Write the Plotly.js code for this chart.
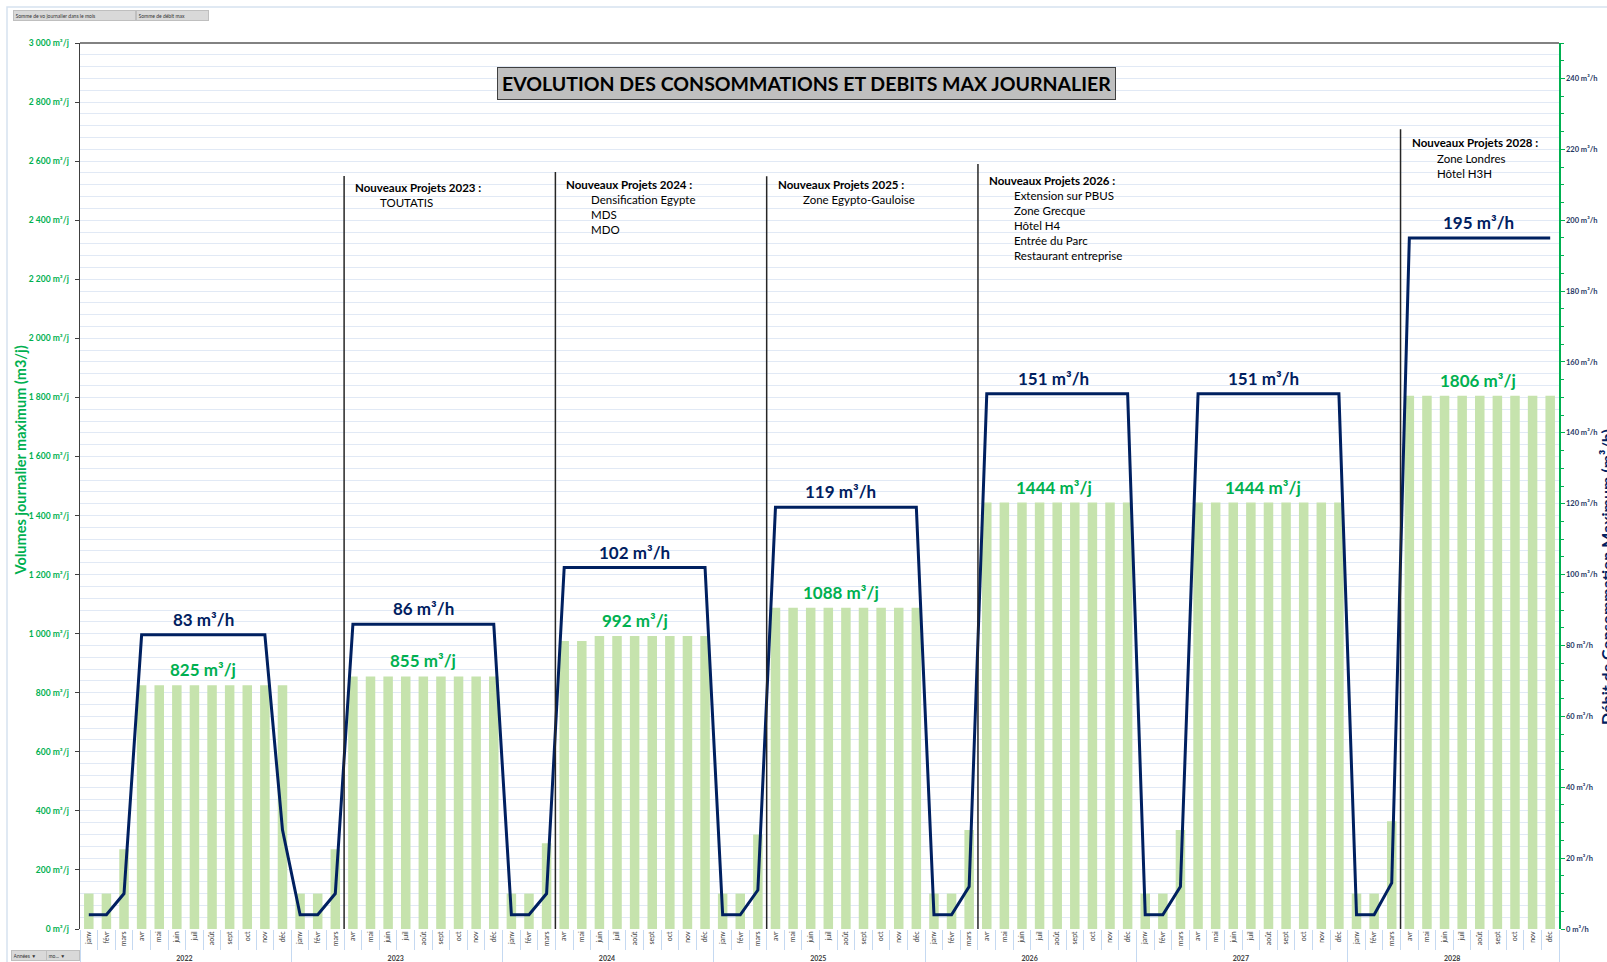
<!DOCTYPE html>
<html>
<head>
<meta charset="utf-8">
<script src="https://cdn.plot.ly/plotly-3.0.1.min.js"></script>
<style>
html,body{margin:0;padding:0;background:#fff;overflow:hidden;}
#chart{width:1607px;height:962px;}
</style>
</head>
<body>
<div id="chart"></div>
<script>
// ---------- DATA ----------
const years = ['2022','2023','2024','2025','2026','2027','2028'];
const months = ['janv','févr','mars','avr','mai','juin','juil','août','sept','oct','nov','déc'];

// Volumes journaliers maximum (m3/j) per month
const vol2022 = [120,120,270,825,825,825,825,825,825,825,825,825];
const vol2023 = [120,120,270,855,855,855,855,855,855,855,855,855];
const vol2024 = [120,120,290,975,975,992,992,992,992,992,992,992];
const vol2025 = [120,120,320,1088,1088,1088,1088,1088,1088,1088,1088,1088];
const vol2026 = [120,120,335,1444,1444,1444,1444,1444,1444,1444,1444,1444];
const vol2027 = [120,120,335,1444,1444,1444,1444,1444,1444,1444,1444,1444];
const vol2028 = [120,120,365,1806,1806,1806,1806,1806,1806,1806,1806,1806];

// Débit maximum (m3/h) per month
const deb2022 = [4,4,10,83,83,83,83,83,83,83,83,28];
const deb2023 = [4,4,10,86,86,86,86,86,86,86,86,86];
const deb2024 = [4,4,10,102,102,102,102,102,102,102,102,102];
const deb2025 = [4,4,11,119,119,119,119,119,119,119,119,119];
const deb2026 = [4,4,12,151,151,151,151,151,151,151,151,151];
const deb2027 = [4,4,12,151,151,151,151,151,151,151,151,151];
const deb2028 = [4,4,13,195,195,195,195,195,195,195,195,195];

// Peak labels (value shown, month index where placed)
const peakVolumes = [825,855,992,1088,1444,1444,1806];
const peakDebits = [83,86,102,119,151,151,195];
const labelPos = [6.5,19,31,42.7,54.8,66.7,78.9];

// New projects
const projYears = ['2023','2024','2025','2026','2028'];
const projects2023 = ['TOUTATIS'];
const projects2024 = ['Densification Egypte','MDS','MDO'];
const projects2025 = ['Zone Egypto-Gauloise'];
const projects2026 = ['Extension sur PBUS','Zone Grecque','Hôtel H4','Entrée du Parc','Restaurant entreprise'];
const projects2028 = ['Zone Londres','Hôtel H3H'];

const chartTitle = 'EVOLUTION DES CONSOMMATIONS ET DEBITS MAX JOURNALIER';
const leftTitle = 'Volumes journalier maximum (m3/j)';
const rightTitle = 'Débit de Consommation Maximum (m³/h)';

// ---------- BUILD ----------
const volumes = [].concat(vol2022,vol2023,vol2024,vol2025,vol2026,vol2027,vol2028);
const debits = [].concat(deb2022,deb2023,deb2024,deb2025,deb2026,deb2027,deb2028);
const xYears = [], xMonths = [];
years.forEach(y => months.forEach(m => { xYears.push('<b>'+y+'</b>'); xMonths.push(m); }));
const N = xMonths.length;

const GREEN = '#00b050', NAVY = '#002060', BAR = '#c6e3ad', GRID = '#e1e9f5';
const FONT = 'Lato, "Open Sans", sans-serif';

const W = 1607, H = 962, ML = 80, MR = 48, MT = 43, MB = 33;
const PW = W - ML - MR, PH = H - MT - MB;
const px = x => (x - ML) / PW;
const py = y => (H - MB - y) / PH;
const catX = i => (i + 0.5) / N;   // paper x of category center i

const traces = [
  {type:'bar', x:[xYears,xMonths], y:volumes, marker:{color:BAR}, name:'Somme de vo journalier dans le mois', hoverinfo:'y'},
  {type:'scatter', mode:'lines', x:[xYears,xMonths], y:debits, yaxis:'y2', line:{color:NAVY, width:3}, name:'Somme de débit max', hoverinfo:'y'}
];

const annotations = [];
const shapes = [];

// chart title box
annotations.push({xref:'paper', yref:'paper', x:px(806), y:py(83), xanchor:'center', yanchor:'middle', text:'<b>'+chartTitle+'</b>', showarrow:false,
  font:{family:FONT, size:19.5, color:'#000'}, bgcolor:'#bfbfbf', bordercolor:'#404040', borderwidth:1, borderpad:4});

// axis titles
annotations.push({xref:'paper', yref:'paper', x:px(19.5), y:py(461), xanchor:'center', yanchor:'middle', text:'<b>'+leftTitle+'</b>', textangle:-90, showarrow:false,
  font:{family:FONT, size:14.5, color:GREEN}});
annotations.push({xref:'paper', yref:'paper', x:px(1606), y:py(577), xanchor:'center', yanchor:'middle', text:'<b>'+rightTitle+'</b>', textangle:-90, showarrow:false,
  font:{family:FONT, size:16, color:NAVY}});

// peak labels
peakDebits.forEach((v,k) => {
  annotations.push({xref:'paper', yref:'y2', x:catX(labelPos[k]), xanchor:'center', y:v, yanchor:'bottom', yshift:3, showarrow:false,
    text:'<b>'+v+' m³/h</b>', font:{family:FONT, size:17, color:NAVY}});
});
peakVolumes.forEach((v,k) => {
  annotations.push({xref:'paper', yref:'y', x:catX(labelPos[k]), xanchor:'center', y:v, yanchor:'bottom', yshift:3, showarrow:false,
    text:'<b>'+v+' m³/j</b>', font:{family:FONT, size:17, color:GREEN}});
});

// project lines + text
const projLists = [projects2023, projects2024, projects2025, projects2026, projects2028];
const projTop = [2550, 2563, 2549, 2590, 2708];
const projTextTop = [180, 176.5, 176.5, 172.5, 135.5];
projYears.forEach((yr,k) => {
  const yi = years.indexOf(yr);
  const b = yi*12 + 3; // boundary between mars and avr
  shapes.push({type:'line', xref:'paper', yref:'y', x0:b/N, x1:b/N, y0:0, y1:projTop[k], line:{color:'#262626', width:1.5}});
  annotations.push({xref:'paper', yref:'paper', x:b/N, xshift:10, xanchor:'left', y:py(projTextTop[k]), yanchor:'top', showarrow:false,
    align:'left', text:'<b>Nouveaux Projets '+yr+' :</b>', font:{family:FONT, size:11.5, color:'#000'}, borderpad:0});
  annotations.push({xref:'paper', yref:'paper', x:b/N, xshift:35, xanchor:'left', y:py(projTextTop[k]+15.4), yanchor:'top', showarrow:false,
    align:'left', text:projLists[k].join('<br>'), font:{family:FONT, size:11.5, color:'#000'}, borderpad:0});
});

// field buttons (pivot chart)
const btn = (x0, x1, y, txt) => annotations.push({xref:'paper', yref:'paper', x:px(x0), xanchor:'left', y:py(y), yanchor:'middle', showarrow:false,
  text:txt, font:{family:FONT, size:5, color:'#333'}, bgcolor:'#d9d9d9', bordercolor:'#bfbfbf', borderwidth:1, borderpad:1.5, width:x1-x0, align:'left'});
btn(13, 131, 15.5, 'Somme de vo journalier dans le mois');
btn(136, 204, 15.5, 'Somme de débit max');
btn(11, 43, 955, 'Années ▼');
btn(46, 75, 955, 'mo... ▼');

// outer border + top plot border
shapes.push({type:'rect', xref:'paper', yref:'paper', x0:px(7), x1:px(1650), y0:py(7), y1:py(1000), line:{color:'#d6e2f0', width:1.5}});
shapes.push({type:'line', xref:'paper', yref:'paper', x0:0, x1:1, y0:1, y1:1, line:{color:'#595959', width:1.5}});

const layout = {
  width:W, height:H,
  margin:{l:ML, r:MR, t:MT, b:MB, pad:0},
  paper_bgcolor:'#fff', plot_bgcolor:'#fff',
  showlegend:false,
  separators:', ',
  font:{family:FONT},
  bargap:0.46,
  xaxis:{type:'multicategory', tickangle:-90, tickfont:{family:FONT, size:7, color:'#404040'},
    showgrid:false, showline:false, zeroline:false, ticks:'outside', tickson:'boundaries', ticklen:20, tickcolor:'#c5d9f1',
    showdividers:true, dividercolor:'#c5d9f1', dividerwidth:1, automargin:false, fixedrange:true},
  yaxis:{range:[0,3000], dtick:200, tickformat:',d', separatethousands:true, ticksuffix:' m³/j',
    tickfont:{family:FONT, size:8.5, color:GREEN, weight:'bold'}, showline:true, linecolor:'#404040', linewidth:1.5,
    ticks:'outside', ticklen:4, tickcolor:'#404040', ticklabelstandoff:4, gridcolor:GRID, gridwidth:1, zeroline:false,
    minor:{dtick:40, showgrid:true, gridcolor:GRID, gridwidth:1}, automargin:false, fixedrange:true},
  yaxis2:{overlaying:'y', side:'right', range:[0,250], dtick:20, ticksuffix:' m³/h',
    tickfont:{family:FONT, size:7.5, color:'#1f3864', weight:'bold'}, showline:true, linecolor:GREEN, linewidth:1.5,
    ticks:'outside', ticklen:4, tickcolor:GREEN, showgrid:false, zeroline:false,
    minor:{dtick:5, ticks:'outside', ticklen:3, tickcolor:GREEN}, automargin:false, fixedrange:true},
  annotations:annotations,
  shapes:shapes
};

Plotly.newPlot('chart', traces, layout, {displayModeBar:false, staticPlot:true});
</script>
</body>
</html>
